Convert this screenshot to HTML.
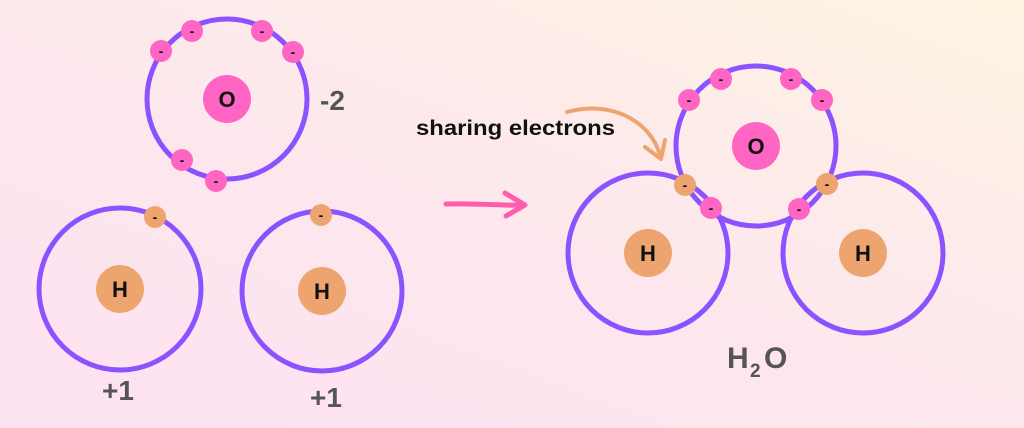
<!DOCTYPE html>
<html><head><style>
body{margin:0;width:1024px;height:428px;overflow:hidden;background:linear-gradient(200deg,#fdf4e2 0%,#fde8ec 45%,#fde2f2 100%);font-family:"Liberation Sans",sans-serif}
</style></head><body>
<svg width="1024" height="428" xmlns="http://www.w3.org/2000/svg" style="position:absolute;left:0;top:0">
<g fill="none" stroke="#8c52ff" stroke-width="5">
<circle cx="227" cy="99" r="80"/>
<circle cx="120" cy="289" r="81"/>
<circle cx="322" cy="291" r="80"/>
<circle cx="756" cy="146" r="80"/>
<circle cx="648" cy="253" r="80"/>
<circle cx="863" cy="253" r="80"/>
</g>
<g fill="#ff66c4">
<circle cx="227" cy="99" r="24"/><circle cx="756" cy="146" r="24"/>
<circle cx="161" cy="51" r="11"/><circle cx="192" cy="31" r="11"/><circle cx="262" cy="31" r="11"/><circle cx="293" cy="52" r="11"/><circle cx="182" cy="160" r="11"/><circle cx="216" cy="181" r="11"/>
<circle cx="689" cy="100" r="11"/><circle cx="721" cy="79" r="11"/><circle cx="791" cy="79" r="11"/><circle cx="822" cy="100" r="11"/><circle cx="711" cy="208" r="11"/><circle cx="799" cy="209" r="11"/>
</g>
<g fill="#eea46e">
<circle cx="120" cy="289" r="24"/><circle cx="322" cy="291" r="24"/><circle cx="648" cy="253" r="24"/><circle cx="863" cy="253" r="24"/>
<circle cx="155" cy="217" r="11"/><circle cx="321" cy="215" r="11"/><circle cx="685" cy="185" r="11"/><circle cx="827" cy="184" r="11"/>
</g>
<g font-weight="bold" font-size="14" text-anchor="middle" fill="#111">
<text x="161" y="56">-</text><text x="192" y="36">-</text><text x="262" y="36">-</text><text x="293" y="57">-</text><text x="182" y="165">-</text><text x="216" y="186">-</text>
<text x="689" y="105">-</text><text x="721" y="84">-</text><text x="791" y="84">-</text><text x="822" y="105">-</text><text x="711" y="213">-</text><text x="799" y="214">-</text>
<text x="155" y="222">-</text><text x="321" y="220">-</text><text x="685" y="190">-</text><text x="827" y="189">-</text>
</g>
<g font-weight="bold" font-size="22" text-anchor="middle" fill="#111">
<text x="227" y="107">O</text><text x="756" y="154">O</text>
<text x="120" y="297">H</text><text x="322" y="299">H</text><text x="648" y="261">H</text><text x="863" y="261">H</text>
</g>
<g font-weight="bold" font-size="28" fill="#555">
<text x="320" y="110">-2</text>
<text x="102" y="400">+1</text><text x="310" y="407">+1</text>
<text x="727" y="368" font-size="30">H</text><text x="750" y="377" font-size="19">2</text><text x="764" y="368" font-size="30">O</text>
</g>
<text x="416" y="135" font-size="21" font-weight="bold" fill="#111" textLength="199" lengthAdjust="spacingAndGlyphs">sharing electrons</text>
<path d="M567 112 C610 100 650 120 660 155" fill="none" stroke="#eea46e" stroke-width="4" stroke-linecap="round"/>
<path d="M645 147 L661 159 L665 140" fill="none" stroke="#eea46e" stroke-width="4" stroke-linecap="round" stroke-linejoin="round"/>
<path d="M446 204 C480 203 505 206 524 205" fill="none" stroke="#ff5cad" stroke-width="5" stroke-linecap="round"/>
<path d="M505 193 L525 205 L506 216" fill="none" stroke="#ff5cad" stroke-width="5" stroke-linecap="round" stroke-linejoin="round"/>
</svg>
</body></html>
